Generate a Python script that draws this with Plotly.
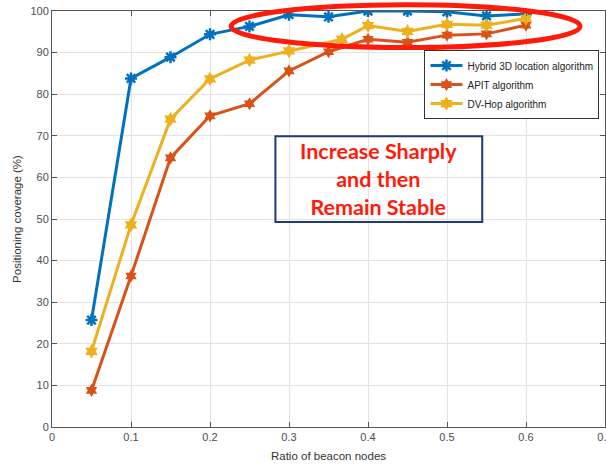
import plotly.graph_objects as go

ratio = [0.05, 0.1, 0.15, 0.2, 0.25, 0.3, 0.35, 0.4, 0.45, 0.5, 0.55, 0.6]
ratio_dvhop = [0.05, 0.1, 0.15, 0.2, 0.25, 0.3, 0.367, 0.4, 0.45, 0.5, 0.55, 0.6]
hybrid = [25.7, 83.8, 88.9, 94.4, 96.3, 99.1, 98.6, 100, 100, 99.8, 98.8, 99.3]
apit = [8.8, 36.3, 64.7, 74.8, 77.7, 85.6, 90.2, 93.2, 92.5, 94.2, 94.5, 96.6]
dvhop = [18.2, 48.6, 74.0, 83.7, 88.2, 90.4, 93.2, 96.5, 95.1, 96.8, 96.6, 98.2]

names = ["Hybrid 3D location algorithm", "APIT algorithm", "DV-Hop algorithm"]
x_ticks = [0, 0.1, 0.2, 0.3, 0.4, 0.5, 0.6, 0.7]
x_tick_labels = ["0", "0.1", "0.2", "0.3", "0.4", "0.5", "0.6", "0.7"]
y_ticks = list(range(0, 101, 10))

BLUE = "#0072BD"
ORANGE = "#D95319"
YELLOW = "#EDB120"

fig = go.Figure()
fig.add_trace(go.Scatter(
    x=ratio, y=hybrid, name=names[0], mode="lines+markers",
    line=dict(color=BLUE, width=3),
    marker=dict(symbol="asterisk-open", size=10, color=BLUE, line=dict(color=BLUE, width=2.5)),
))
fig.add_trace(go.Scatter(
    x=ratio, y=apit, name=names[1], mode="lines+markers",
    line=dict(color=ORANGE, width=3),
    marker=dict(symbol="hexagram", size=10, color=ORANGE),
))
fig.add_trace(go.Scatter(
    x=ratio_dvhop, y=dvhop, name=names[2], mode="lines+markers",
    line=dict(color=YELLOW, width=3),
    marker=dict(symbol="hexagram", size=11, color=YELLOW),
))

axis_common = dict(
    showline=True, linecolor="#555555", linewidth=1, mirror="ticks",
    ticks="inside", ticklen=5, tickcolor="#555555",
    showgrid=True, gridcolor="#E3E3E3", gridwidth=1, zeroline=False,
    tickfont=dict(family="Liberation Sans, Arial", size=11, color="#4D4D4D"),
    automargin=False, ticklabeloverflow="allow",
)

fig.update_xaxes(
    range=[0, 0.7], tickvals=x_ticks, ticktext=x_tick_labels,
    title=dict(text="Ratio of beacon nodes", standoff=9,
               font=dict(family="Liberation Sans, Arial", size=11.5, color="#333333")),
    **axis_common,
)
fig.update_yaxes(
    range=[0, 100], tickvals=y_ticks,
    title=dict(text="Positioning coverage (%)", standoff=6,
               font=dict(family="Liberation Sans, Arial", size=11.5, color="#333333")),
    **axis_common,
)

# Red highlighting ellipse
fig.add_shape(type="circle", xref="paper", yref="paper",
              x0=0.324, x1=0.955, y0=0.912, y1=1.015,
              line=dict(color="#FF1A0A", width=5), layer="above")

# Text box
fig.add_shape(type="rect", xref="paper", yref="paper",
              x0=0.404, x1=0.778, y0=0.493, y1=0.699,
              line=dict(color="#1F3A78", width=2), fillcolor="rgba(0,0,0,0)", layer="above")
fig.add_annotation(
    xref="paper", yref="paper", x=0.591, y=0.596,
    text="<b>Increase Sharply<br>and then<br>Remain Stable</b>",
    showarrow=False, align="center",
    font=dict(family="Lato, Carlito, sans-serif", size=21.5, color="#FF1A0A"),
)

fig.update_layout(
    width=606, height=464,
    margin=dict(l=52, r=1, t=11, b=37),
    plot_bgcolor="white", paper_bgcolor="white",
    legend=dict(
        x=0.99, y=0.906, xanchor="right", yanchor="top",
        bgcolor="white", bordercolor="#333333", borderwidth=1,
        font=dict(family="Liberation Sans, Arial", size=10, color="#222222"),
        itemwidth=32, tracegroupgap=0,
    ),
    showlegend=True,
)

fig.write_html("out.html", config={"displayModeBar": False},
               post_script="document.body.style.margin='0px';")
